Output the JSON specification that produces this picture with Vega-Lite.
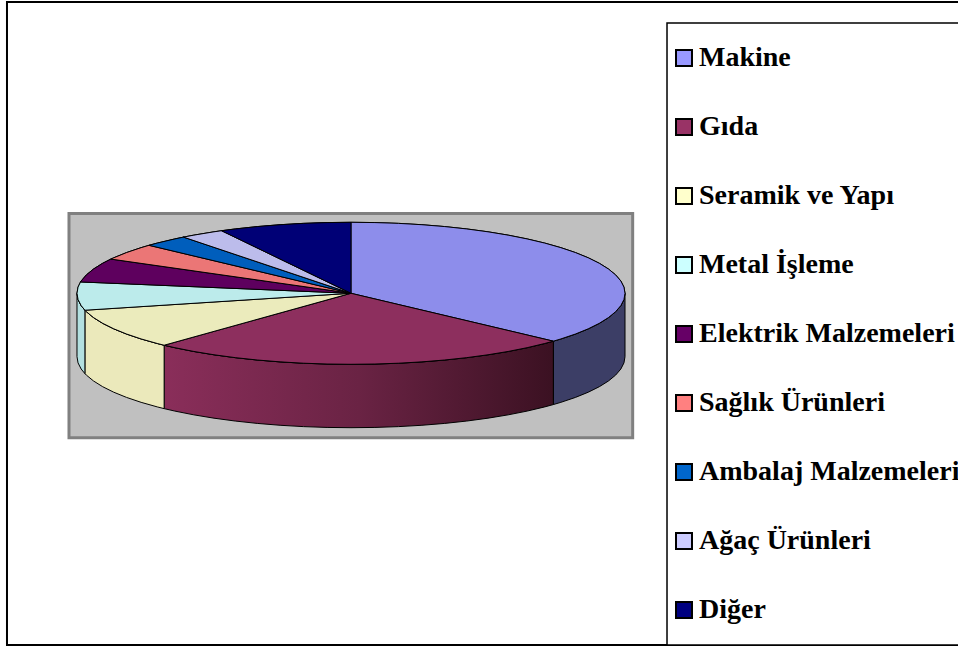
{"$schema":"https://vega.github.io/schema/vega-lite/v6.json","width":958,"height":648,"padding":0,"autosize":{"type":"none"},"background":"#ffffff","config":{"view":{"stroke":null}},
"datasets":{"top":[
{"c":"Makine","o":0,"x":0,"y":0},{"c":"Makine","o":1,"x":0,"y":1},{"c":"Makine","o":2,"x":0.0872,"y":0.9962},{"c":"Makine","o":3,"x":0.1736,"y":0.9848},{"c":"Makine","o":4,"x":0.2588,"y":0.9659},{"c":"Makine","o":5,"x":0.342,"y":0.9397},{"c":"Makine","o":6,"x":0.4226,"y":0.9063},{"c":"Makine","o":7,"x":0.5,"y":0.866},{"c":"Makine","o":8,"x":0.5736,"y":0.8192},{"c":"Makine","o":9,"x":0.6428,"y":0.766},{"c":"Makine","o":10,"x":0.7071,"y":0.7071},{"c":"Makine","o":11,"x":0.766,"y":0.6428},{"c":"Makine","o":12,"x":0.8192,"y":0.5736},{"c":"Makine","o":13,"x":0.866,"y":0.5},{"c":"Makine","o":14,"x":0.9063,"y":0.4226},{"c":"Makine","o":15,"x":0.9397,"y":0.342},{"c":"Makine","o":16,"x":0.9659,"y":0.2588},{"c":"Makine","o":17,"x":0.9848,"y":0.1736},{"c":"Makine","o":18,"x":0.9962,"y":0.0872},{"c":"Makine","o":19,"x":1,"y":0},{"c":"Makine","o":20,"x":0.9962,"y":-0.0872},{"c":"Makine","o":21,"x":0.9848,"y":-0.1736},{"c":"Makine","o":22,"x":0.9659,"y":-0.2588},{"c":"Makine","o":23,"x":0.9397,"y":-0.342},{"c":"Makine","o":24,"x":0.9063,"y":-0.4226},{"c":"Makine","o":25,"x":0.866,"y":-0.5},{"c":"Makine","o":26,"x":0.8192,"y":-0.5736},{"c":"Makine","o":27,"x":0.766,"y":-0.6428},{"c":"Makine","o":28,"x":0.7385,"y":-0.6743},{"c":"Makine","o":29,"x":0,"y":0},
{"c":"Gıda","o":0,"x":0,"y":0},{"c":"Gıda","o":1,"x":0.7385,"y":-0.6743},{"c":"Gıda","o":2,"x":0.7071,"y":-0.7071},{"c":"Gıda","o":3,"x":0.6428,"y":-0.766},{"c":"Gıda","o":4,"x":0.5736,"y":-0.8192},{"c":"Gıda","o":5,"x":0.5,"y":-0.866},{"c":"Gıda","o":6,"x":0.4226,"y":-0.9063},{"c":"Gıda","o":7,"x":0.342,"y":-0.9397},{"c":"Gıda","o":8,"x":0.2588,"y":-0.9659},{"c":"Gıda","o":9,"x":0.1736,"y":-0.9848},{"c":"Gıda","o":10,"x":0.0872,"y":-0.9962},{"c":"Gıda","o":11,"x":0,"y":-1},{"c":"Gıda","o":12,"x":-0.0872,"y":-0.9962},{"c":"Gıda","o":13,"x":-0.1736,"y":-0.9848},{"c":"Gıda","o":14,"x":-0.2588,"y":-0.9659},{"c":"Gıda","o":15,"x":-0.342,"y":-0.9397},{"c":"Gıda","o":16,"x":-0.4226,"y":-0.9063},{"c":"Gıda","o":17,"x":-0.5,"y":-0.866},{"c":"Gıda","o":18,"x":-0.5736,"y":-0.8192},{"c":"Gıda","o":19,"x":-0.6428,"y":-0.766},{"c":"Gıda","o":20,"x":-0.682,"y":-0.7314},{"c":"Gıda","o":21,"x":0,"y":0},
{"c":"Seramik ve Yapı","o":0,"x":0,"y":0},{"c":"Seramik ve Yapı","o":1,"x":-0.682,"y":-0.7314},{"c":"Seramik ve Yapı","o":2,"x":-0.7071,"y":-0.7071},{"c":"Seramik ve Yapı","o":3,"x":-0.766,"y":-0.6428},{"c":"Seramik ve Yapı","o":4,"x":-0.8192,"y":-0.5736},{"c":"Seramik ve Yapı","o":5,"x":-0.866,"y":-0.5},{"c":"Seramik ve Yapı","o":6,"x":-0.9063,"y":-0.4226},{"c":"Seramik ve Yapı","o":7,"x":-0.9397,"y":-0.342},{"c":"Seramik ve Yapı","o":8,"x":-0.9659,"y":-0.2588},{"c":"Seramik ve Yapı","o":9,"x":-0.9711,"y":-0.2385},{"c":"Seramik ve Yapı","o":10,"x":0,"y":0},
{"c":"Metal İşleme","o":0,"x":0,"y":0},{"c":"Metal İşleme","o":1,"x":-0.9711,"y":-0.2385},{"c":"Metal İşleme","o":2,"x":-0.9848,"y":-0.1736},{"c":"Metal İşleme","o":3,"x":-0.9962,"y":-0.0872},{"c":"Metal İşleme","o":4,"x":-1,"y":0},{"c":"Metal İşleme","o":5,"x":-0.9962,"y":0.0872},{"c":"Metal İşleme","o":6,"x":-0.9871,"y":0.1599},{"c":"Metal İşleme","o":7,"x":0,"y":0},
{"c":"Elektrik Malzemeleri","o":0,"x":0,"y":0},{"c":"Elektrik Malzemeleri","o":1,"x":-0.9871,"y":0.1599},{"c":"Elektrik Malzemeleri","o":2,"x":-0.9848,"y":0.1736},{"c":"Elektrik Malzemeleri","o":3,"x":-0.9659,"y":0.2588},{"c":"Elektrik Malzemeleri","o":4,"x":-0.9397,"y":0.342},{"c":"Elektrik Malzemeleri","o":5,"x":-0.9063,"y":0.4226},{"c":"Elektrik Malzemeleri","o":6,"x":-0.8763,"y":0.4818},{"c":"Elektrik Malzemeleri","o":7,"x":0,"y":0},
{"c":"Sağlık Ürünleri","o":0,"x":0,"y":0},{"c":"Sağlık Ürünleri","o":1,"x":-0.8763,"y":0.4818},{"c":"Sağlık Ürünleri","o":2,"x":-0.866,"y":0.5},{"c":"Sağlık Ürünleri","o":3,"x":-0.8192,"y":0.5736},{"c":"Sağlık Ürünleri","o":4,"x":-0.766,"y":0.6428},{"c":"Sağlık Ürünleri","o":5,"x":-0.7373,"y":0.6756},{"c":"Sağlık Ürünleri","o":6,"x":0,"y":0},
{"c":"Ambalaj Malzemeleri","o":0,"x":0,"y":0},{"c":"Ambalaj Malzemeleri","o":1,"x":-0.7373,"y":0.6756},{"c":"Ambalaj Malzemeleri","o":2,"x":-0.7071,"y":0.7071},{"c":"Ambalaj Malzemeleri","o":3,"x":-0.6428,"y":0.766},{"c":"Ambalaj Malzemeleri","o":4,"x":-0.6115,"y":0.7912},{"c":"Ambalaj Malzemeleri","o":5,"x":0,"y":0},
{"c":"Ağaç Ürünleri","o":0,"x":0,"y":0},{"c":"Ağaç Ürünleri","o":1,"x":-0.6115,"y":0.7912},{"c":"Ağaç Ürünleri","o":2,"x":-0.5736,"y":0.8192},{"c":"Ağaç Ürünleri","o":3,"x":-0.5,"y":0.866},{"c":"Ağaç Ürünleri","o":4,"x":-0.4726,"y":0.8813},{"c":"Ağaç Ürünleri","o":5,"x":0,"y":0},
{"c":"Diğer","o":0,"x":0,"y":0},{"c":"Diğer","o":1,"x":-0.4726,"y":0.8813},{"c":"Diğer","o":2,"x":-0.4226,"y":0.9063},{"c":"Diğer","o":3,"x":-0.342,"y":0.9397},{"c":"Diğer","o":4,"x":-0.2588,"y":0.9659},{"c":"Diğer","o":5,"x":-0.1736,"y":0.9848},{"c":"Diğer","o":6,"x":-0.0872,"y":0.9962},{"c":"Diğer","o":7,"x":0,"y":1},{"c":"Diğer","o":8,"x":0,"y":0}
]},
"encoding":{
"x":{"field":"x","type":"quantitative","axis":null,"scale":{"domain":[-1.281,2.2153],"nice":false,"zero":false}},
"y":{"field":"y","type":"quantitative","axis":null,"scale":{"domain":[-4.996,4.131],"nice":false,"zero":false}}
},
"layer":[
{"data":{"values":[{"x":-1.2555,"x2":2.5,"y":4.103,"y2":-4.954}]},"mark":{"type":"rect","fill":"#ffffff","stroke":"#000000","strokeWidth":2},"encoding":{"x2":{"field":"x2"},"y2":{"field":"y2"}}},
{"data":{"values":[{"x":1.1533,"x2":2.5,"y":3.807,"y2":-4.954}]},"mark":{"type":"rect","fill":"#ffffff","stroke":"#000000","strokeWidth":1.5},"encoding":{"x2":{"field":"x2"},"y2":{"field":"y2"}}},
{"data":{"values":[{"x":-1.0292,"x2":1.028,"y":1.124,"y2":-2.034}]},"mark":{"type":"rect","fill":"#c0c0c0","stroke":"#808080","strokeWidth":3},"encoding":{"x2":{"field":"x2"},"y2":{"field":"y2"}}},
{"data":{"values":[{"o":0,"x":1,"y":0},{"o":1,"x":0.9962,"y":-0.0872},{"o":2,"x":0.9848,"y":-0.1736},{"o":3,"x":0.9659,"y":-0.2588},{"o":4,"x":0.9397,"y":-0.342},{"o":5,"x":0.9063,"y":-0.4226},{"o":6,"x":0.866,"y":-0.5},{"o":7,"x":0.8192,"y":-0.5736},{"o":8,"x":0.766,"y":-0.6428},{"o":9,"x":0.7385,"y":-0.6743},{"o":10,"x":0.7385,"y":-1.5673},{"o":11,"x":0.766,"y":-1.5358},{"o":12,"x":0.8192,"y":-1.4666},{"o":13,"x":0.866,"y":-1.393},{"o":14,"x":0.9063,"y":-1.3156},{"o":15,"x":0.9397,"y":-1.235},{"o":16,"x":0.9659,"y":-1.1518},{"o":17,"x":0.9848,"y":-1.0666},{"o":18,"x":0.9962,"y":-0.9802},{"o":19,"x":1,"y":-0.893},{"o":20,"x":1,"y":0}]},
"mark":{"type":"line","fill":"#3c3e66","stroke":"#000000","strokeWidth":1},"encoding":{"order":{"field":"o"}}},
{"data":{"values":[{"o":0,"x":0.7385,"y":-0.6743},{"o":1,"x":0.7071,"y":-0.7071},{"o":2,"x":0.6428,"y":-0.766},{"o":3,"x":0.5736,"y":-0.8192},{"o":4,"x":0.5,"y":-0.866},{"o":5,"x":0.4226,"y":-0.9063},{"o":6,"x":0.342,"y":-0.9397},{"o":7,"x":0.2588,"y":-0.9659},{"o":8,"x":0.1736,"y":-0.9848},{"o":9,"x":0.0872,"y":-0.9962},{"o":10,"x":0,"y":-1},{"o":11,"x":-0.0872,"y":-0.9962},{"o":12,"x":-0.1736,"y":-0.9848},{"o":13,"x":-0.2588,"y":-0.9659},{"o":14,"x":-0.342,"y":-0.9397},{"o":15,"x":-0.4226,"y":-0.9063},{"o":16,"x":-0.5,"y":-0.866},{"o":17,"x":-0.5736,"y":-0.8192},{"o":18,"x":-0.6428,"y":-0.766},{"o":19,"x":-0.682,"y":-0.7314},{"o":20,"x":-0.682,"y":-1.6244},{"o":21,"x":-0.6428,"y":-1.659},{"o":22,"x":-0.5736,"y":-1.7122},{"o":23,"x":-0.5,"y":-1.759},{"o":24,"x":-0.4226,"y":-1.7993},{"o":25,"x":-0.342,"y":-1.8327},{"o":26,"x":-0.2588,"y":-1.8589},{"o":27,"x":-0.1736,"y":-1.8778},{"o":28,"x":-0.0872,"y":-1.8892},{"o":29,"x":0,"y":-1.893},{"o":30,"x":0.0872,"y":-1.8892},{"o":31,"x":0.1736,"y":-1.8778},{"o":32,"x":0.2588,"y":-1.8589},{"o":33,"x":0.342,"y":-1.8327},{"o":34,"x":0.4226,"y":-1.7993},{"o":35,"x":0.5,"y":-1.759},{"o":36,"x":0.5736,"y":-1.7122},{"o":37,"x":0.6428,"y":-1.659},{"o":38,"x":0.7071,"y":-1.6001},{"o":39,"x":0.7385,"y":-1.5673},{"o":40,"x":0.7385,"y":-0.6743}]},
"mark":{"type":"line","fill":{"gradient":"linear","x1":0,"x2":1,"y1":0,"y2":0,"stops":[{"offset":0,"color":"#8a2e5a"},{"offset":0.5,"color":"#6a2344"},{"offset":1,"color":"#3b1122"}]},"stroke":"#000000","strokeWidth":1},"encoding":{"order":{"field":"o"}}},
{"data":{"values":[{"o":0,"x":-0.682,"y":-0.7314},{"o":1,"x":-0.7071,"y":-0.7071},{"o":2,"x":-0.766,"y":-0.6428},{"o":3,"x":-0.8192,"y":-0.5736},{"o":4,"x":-0.866,"y":-0.5},{"o":5,"x":-0.9063,"y":-0.4226},{"o":6,"x":-0.9397,"y":-0.342},{"o":7,"x":-0.9659,"y":-0.2588},{"o":8,"x":-0.9711,"y":-0.2385},{"o":9,"x":-0.9711,"y":-1.1315},{"o":10,"x":-0.9659,"y":-1.1518},{"o":11,"x":-0.9397,"y":-1.235},{"o":12,"x":-0.9063,"y":-1.3156},{"o":13,"x":-0.866,"y":-1.393},{"o":14,"x":-0.8192,"y":-1.4666},{"o":15,"x":-0.766,"y":-1.5358},{"o":16,"x":-0.7071,"y":-1.6001},{"o":17,"x":-0.682,"y":-1.6244},{"o":18,"x":-0.682,"y":-0.7314}]},
"mark":{"type":"line","fill":"#ebe9bb","stroke":"#000000","strokeWidth":1},"encoding":{"order":{"field":"o"}}},
{"data":{"values":[{"o":0,"x":-0.9711,"y":-0.2385},{"o":1,"x":-0.9848,"y":-0.1736},{"o":2,"x":-0.9962,"y":-0.0872},{"o":3,"x":-1,"y":0},{"o":4,"x":-1,"y":-0.893},{"o":5,"x":-0.9962,"y":-0.9802},{"o":6,"x":-0.9848,"y":-1.0666},{"o":7,"x":-0.9711,"y":-1.1315},{"o":8,"x":-0.9711,"y":-0.2385}]},
"mark":{"type":"line","fill":"#b3e0e0","stroke":"#000000","strokeWidth":1},"encoding":{"order":{"field":"o"}}},
{"data":{"name":"top"},"mark":{"type":"line","fill":"#000000","stroke":"#000000","strokeWidth":1},"encoding":{"detail":{"field":"c"},"order":{"field":"o"}}},
{"data":{"name":"top"},"mark":{"type":"line","stroke":"#000000","strokeWidth":1,"fillOpacity":0.92},
"encoding":{"order":{"field":"o"},
"fill":{"field":"c","type":"nominal","scale":{"domain":["Makine","Gıda","Seramik ve Yapı","Metal İşleme","Elektrik Malzemeleri","Sağlık Ürünleri","Ambalaj Malzemeleri","Ağaç Ürünleri","Diğer"],"range":["#9999ff","#993366","#ffffcc","#ccffff","#660066","#ff8080","#0066cc","#ccccff","#000080"]},
"legend":{"title":null,"orient":"none","legendX":670,"legendY":44,"padding":0,"symbolType":"square","symbolSize":256,"symbolStrokeColor":"#000000","symbolOpacity":1,"labelFont":"Liberation Serif","labelFontWeight":"bold","labelFontSize":28,"labelColor":"#000000","labelLimit":500,"labelOffset":1,"rowPadding":41,"columns":1,"encode":{"symbols":{"update":{"strokeWidth":{"value":2},"stroke":{"value":"#000000"}}}}}}}}
]}
